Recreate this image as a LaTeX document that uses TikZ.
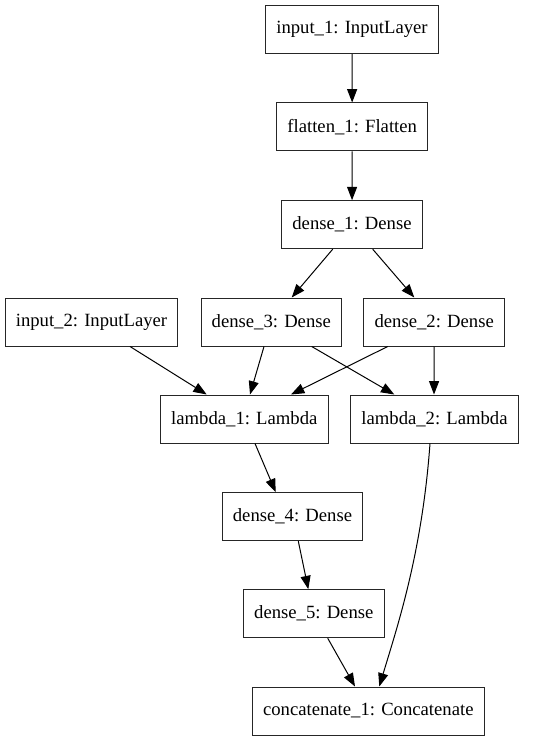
\documentclass[tikz,border=0pt]{standalone}
\usepackage{fontspec}
\setmainfont{Liberation Serif}
\usepackage{tikz}
\usetikzlibrary{arrows.meta,calc,positioning}

\tikzset{
    layer/.style={draw=black!85, rectangle, line width=0.75pt, minimum height=36pt, inner xsep=8pt,
        font=\fontsize{14}{16}\selectfont},
    flow/.style={-{Triangle[length=10pt,width=7.5pt]}, line width=0.75pt}
}

\begin{document}
\begin{tikzpicture}[x=0.75pt, y=-0.75pt]
    \useasboundingbox (0,0) rectangle (535,741);

    % Upper branch
    \node[layer] (input1) at (352,29.7) {input\_1: InputLayer};
    \node[layer] (flatten1) at (352.2,127) {flatten\_1: Flatten};
    \node[layer] (dense1) at (352,224.7) {dense\_1: Dense};

    % Middle row
    \node[layer] (input2) at (91.5,322) {input\_2: InputLayer};
    \node[layer] (dense3) at (271.3,322) {dense\_3: Dense};
    \node[layer] (dense2) at (434.2,322) {dense\_2: Dense};

    % Lambdas
    \node[layer] (lambda1) at (244.3,419) {lambda\_1: Lambda};
    \node[layer] (lambda2) at (434.5,419) {lambda\_2: Lambda};

    % Lower branch
    \node[layer] (dense4) at (292.5,516.7) {dense\_4: Dense};
    \node[layer] (dense5) at (313.8,613.7) {dense\_5: Dense};
    \node[layer] (concat1) at (368.3,711) {concatenate\_1: Concatenate};

    % Arrows
    \draw[flow] (input1) -- (flatten1);
    \draw[flow] (flatten1) -- (dense1);
    \draw[flow] ($(dense1.south)+(-19.3,0)$) -- ($(dense3.north)+(20.4,0)$);
    \draw[flow] ($(dense1.south)+(20.7,0)$) -- ($(dense2.north)+(-19.9,0)$);
    \draw[flow] ($(input2.south)+(38.5,0)$) -- ($(lambda1.north)+(-37.6,0)$);
    \draw[flow] ($(dense3.south)+(-7.3,0)$) -- ($(lambda1.north)+(5.7,0)$);
    \draw[flow] ($(dense2.south)+(-46.5,0)$) -- ($(lambda1.north)+(46.7,0)$);
    \draw[flow] ($(dense3.south)+(40.4,0)$) -- ($(lambda2.north)+(-40.2,0)$);
    \draw[flow] ($(dense2.south)+(0,0)$) -- ($(lambda2.north)+(-0.5,0)$);
    \draw[flow] ($(lambda1.south)+(10.7,0)$) -- ($(dense4.north)+(-16.8,0)$);
    \draw[flow] ($(dense4.south)+(5.8,0)$) -- ($(dense5.north)+(-5.5,0)$);
    \draw[flow] ($(dense5.south)+(13.9,0)$) -- ($(concat1.north)+(-13.3,0)$);
    \draw[flow] ($(lambda2.south)+(-4.5,0)$) .. controls +(-8,110) and +(18,-60) .. ($(concat1.north)+(11,0)$);
\end{tikzpicture}
\end{document}
